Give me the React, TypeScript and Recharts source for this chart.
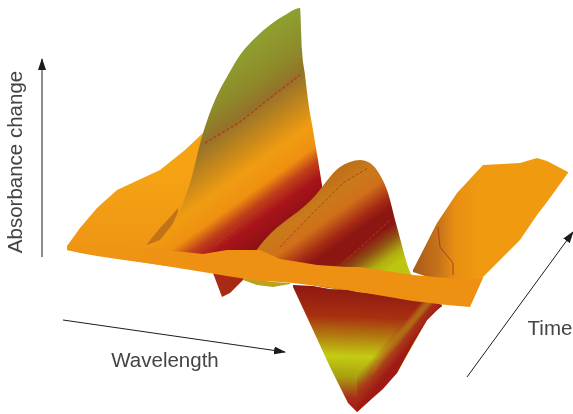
import { useEffect } from 'react'
import {
  Area,
  ComposedChart,
  Line,
  ReferenceDot,
  ReferenceLine,
  XAxis,
  YAxis,
} from 'recharts'

// surface patches, each one is x positions plus the upper and lower edge
const flapX = [67, 80, 97, 117, 160, 185, 203, 215]
const flapTop = [246, 228, 208, 190, 170, 150, 133, 133]
const flapBottom = [250, 253, 256, 259, 265, 268, 271, 272]

const peakX = [147, 165, 180, 190, 203, 215, 228, 240, 255, 270, 285, 300, 302, 305, 308, 313, 318, 322]
const peakTop = [245, 228, 210, 183, 133, 100, 75, 55, 38, 25, 15, 8, 50, 75, 100, 130, 160, 185]
const peakBottom = [245, 250, 254, 256, 258, 258, 258, 258, 258, 258, 258, 258, 258, 258, 258, 258, 258, 258]

const streakX = [147, 160, 172, 178]
const streakTop = [244, 228, 215, 208]
const streakBottom = [245, 240, 225, 212]

const ridgeX = [255, 262, 313, 340, 350, 360, 370, 380, 387, 397, 410, 413]
const ridgeTop = [252, 243, 198, 167, 162, 160, 163, 175, 190, 227, 272, 278]
const ridgeBottom = [256, 265, 285, 290, 292, 295, 295, 298, 300, 300, 302, 300]

const rightX = [413, 437, 457, 483, 520, 537, 547, 568]
const rightTop = [270, 223, 193, 165, 163, 158, 161, 172]
const rightBottom = [272, 280, 283, 277, 240, 215, 202, 173]

const dipRedX = [213, 222, 230, 243]
const dipRedTop = [270, 272, 274, 277]
const dipRedBottom = [273, 297, 293, 280]

const dipYellowX = [243, 257, 273, 290]
const dipYellowTop = [278, 280, 282, 283]
const dipYellowBottom = [280, 285, 287, 284]

const valleyX = [293, 313, 330, 348, 357, 367, 397, 427, 437, 442]
const valleyTop = [285, 286, 289, 290, 292, 293, 297, 300, 303, 305]
const valleyBottom = [287, 330, 367, 403, 412, 403, 373, 320, 310, 306]

// yellow stripe and red rim on the right wall of the valley
const stripeX = [372, 380, 400, 420, 432]
const stripeTop = [372, 355, 325, 302, 302]
const stripeBottom = [375, 370, 345, 318, 305]

const rimX = [357, 367, 383, 397, 415, 427, 437, 442]
const rimTop = [376, 363, 344, 327, 304, 300, 303, 305]
const rimBottom = [412, 403, 389, 373, 340, 320, 310, 306]

const stripX = [67, 147, 203, 227, 260, 280, 293, 317, 347, 360, 407, 413, 447, 470, 483]
const stripTop = [246, 248, 254, 250, 250, 259, 261, 265, 267, 267, 274, 275, 278, 279, 277]
const stripBottom = [250, 263, 272, 276, 281, 282, 283, 286, 290, 292, 300, 301, 305, 307, 278]

// thin contour lines on the surface
const contourA = [[205, 143], [240, 122], [270, 98], [300, 75]]
const contourB = [[215, 245], [240, 225], [265, 205]]
const contourC = [[280, 247], [313, 213], [343, 183], [368, 168]]
const contourD = [[343, 263], [365, 243], [390, 220]]
const contourE = [[438, 227], [440, 247], [453, 263], [453, 275]]

const patch = (xs: number[], top: number[], bottom: number[]) =>
  xs.map((x, i) => ({ x, band: [top[i], bottom[i]] }))
const path = (pts: number[][]) => pts.map(([x, y]) => ({ x, y }))

const stops = (list: [number, string, number?][]) =>
  list.map(([o, c, a], i) => <stop key={i} offset={o} stopColor={c} stopOpacity={a ?? 1} />)

const textStyle = { fontFamily: 'Liberation Sans', fontSize: 20.5, fill: '#444444' }

export default function App() {
  useEffect(() => {
    document.body.style.margin = '0'
  }, [])

  const areaProps = {
    dataKey: 'band',
    stroke: 'none',
    isAnimationActive: false,
    dot: false,
    activeDot: false,
    type: 'linear' as const,
    fillOpacity: 1,
  }
  const contourProps = {
    dataKey: 'y',
    stroke: '#b0401a',
    strokeWidth: 1,
    strokeDasharray: '3 2',
    dot: false,
    activeDot: false,
    isAnimationActive: false,
  }

  return (
    <div style={{ width: 573, height: 414, filter: 'blur(0.5px)' }}>
      <ComposedChart width={573} height={414} margin={{ top: 0, right: 0, bottom: 0, left: 0 }}>
        <defs>
          <marker id="head" markerWidth="12" markerHeight="8" refX="11" refY="4" orient="auto" markerUnits="userSpaceOnUse">
            <path d="M0,0 L12,4 L0,8 Z" fill="#1c1c1c" />
          </marker>
          <linearGradient id="flapFill" gradientUnits="userSpaceOnUse" x1={0} y1={170} x2={0} y2={250}>
            {stops([[0, '#f5a313'], [1, '#ef9515']])}
          </linearGradient>
          <linearGradient id="stripFill" gradientUnits="userSpaceOnUse" x1={67} y1={0} x2={205} y2={0}>
            {stops([[0, '#ef9515'], [1, '#ee9113']])}
          </linearGradient>
          <linearGradient id="peakFill" gradientUnits="userSpaceOnUse" x1={240} y1={50} x2={339} y2={188}>
            {stops([[0, '#8f9f2e'], [0.2, '#8e8a2a'], [0.32, '#94722a'], [0.5, '#d08c18'], [0.6, '#f09c12'], [0.72, '#ef9010'], [0.8, '#c0401a'], [0.88, '#a8141a'], [1, '#8e1015']])}
          </linearGradient>
          <linearGradient id="ridgeFill" gradientUnits="userSpaceOnUse" x1={340} y1={160} x2={408} y2={256}>
            {stops([[0, '#b86a1a'], [0.2, '#c97a1a'], [0.35, '#d0701a'], [0.5, '#a52a14'], [0.58, '#8c1712'], [0.7, '#8c1712'], [0.8, '#8f5014'], [0.92, '#b0b010'], [1, '#bcc50f']])}
          </linearGradient>
          <linearGradient id="rightFill" gradientUnits="userSpaceOnUse" x1={413} y1={0} x2={480} y2={0}>
            {stops([[0, '#a85a18'], [0.4, '#c9741a'], [0.63, '#e88f12'], [1, '#f09a10']])}
          </linearGradient>
          <linearGradient id="valleyFill" gradientUnits="userSpaceOnUse" x1={340} y1={285} x2={336} y2={412}>
            {stops([[0, '#8c1712'], [0.25, '#a83010'], [0.43, '#b58a10'], [0.56, '#c4cc12'], [0.72, '#a8a010'], [0.88, '#a8301a'], [1, '#a01a14']])}
          </linearGradient>
          <linearGradient id="stripeFill" gradientUnits="userSpaceOnUse" x1={390} y1={340} x2={401} y2={349}>
            {stops([[0, '#c4cc12', 0], [0.5, '#c4cc12', 1], [1, '#b8a010', 0.6]])}
          </linearGradient>
          <linearGradient id="rimFill" gradientUnits="userSpaceOnUse" x1={383} y1={344} x2={400} y2={358}>
            {stops([[0, '#a8301a', 0], [0.6, '#a8301a', 0.9], [1, '#a01a14', 1]])}
          </linearGradient>
        </defs>

        <XAxis type="number" dataKey="x" domain={[0, 573]} hide allowDuplicatedCategory={false} />
        <YAxis type="number" domain={[0, 414]} reversed hide />

        <Area {...areaProps} data={patch(flapX, flapTop, flapBottom)} fill="url(#flapFill)" />
        <Area {...areaProps} type="monotoneX" data={patch(peakX, peakTop, peakBottom)} fill="url(#peakFill)" />
        <Area {...areaProps} data={patch(streakX, streakTop, streakBottom)} fill="#c27318" />
        <Area {...areaProps} type="monotoneX" data={patch(ridgeX, ridgeTop, ridgeBottom)} fill="url(#ridgeFill)" />
        <Area {...areaProps} data={patch(rightX, rightTop, rightBottom)} fill="url(#rightFill)" />
        <Area {...areaProps} data={patch(dipRedX, dipRedTop, dipRedBottom)} fill="#a82a14" />
        <Area {...areaProps} data={patch(dipYellowX, dipYellowTop, dipYellowBottom)} fill="#b8a21e" />
        <Area {...areaProps} data={patch(valleyX, valleyTop, valleyBottom)} fill="url(#valleyFill)" />
        <Area {...areaProps} data={patch(stripeX, stripeTop, stripeBottom)} fill="url(#stripeFill)" />
        <Area {...areaProps} data={patch(rimX, rimTop, rimBottom)} fill="url(#rimFill)" />
        <Area {...areaProps} data={patch(stripX, stripTop, stripBottom)} fill="url(#stripFill)" />

        <Line {...contourProps} data={path(contourA)} strokeWidth={1.5} />
        <Line {...contourProps} data={path(contourB)} />
        <Line {...contourProps} data={path(contourC)} />
        <Line {...contourProps} data={path(contourD)} />
        <Line {...contourProps} data={path(contourE)} strokeDasharray="none" />

        <ReferenceLine segment={[{ x: 42, y: 257 }, { x: 42, y: 59 }]} stroke="#1c1c1c" strokeWidth={1} markerEnd="url(#head)" />
        <ReferenceLine segment={[{ x: 63, y: 320 }, { x: 285, y: 352 }]} stroke="#1c1c1c" strokeWidth={1} markerEnd="url(#head)" />
        <ReferenceLine segment={[{ x: 467, y: 377 }, { x: 573, y: 232 }]} stroke="#1c1c1c" strokeWidth={1} markerEnd="url(#head)" />

        <ReferenceDot x={15} y={162} r={0} stroke="none" label={{ value: 'Absorbance change', position: 'center', angle: -90, ...textStyle }} />
        <ReferenceDot x={165} y={360} r={0} stroke="none" label={{ value: 'Wavelength', position: 'center', ...textStyle }} />
        <ReferenceDot x={550} y={328} r={0} stroke="none" label={{ value: 'Time', position: 'center', ...textStyle }} />
      </ComposedChart>
    </div>
  )
}
